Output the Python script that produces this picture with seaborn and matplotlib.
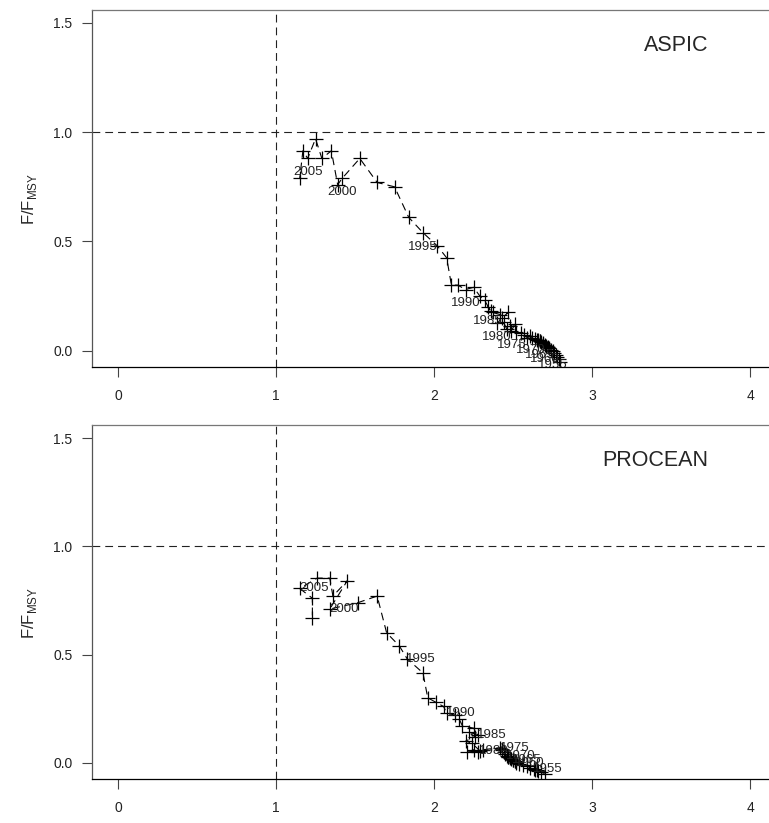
import numpy as np
import pandas as pd
import seaborn as sns
import matplotlib.pyplot as plt

# Data: B/BMSY (x) and F/FMSY (y) by year
years = list(range(1950, 2008))
label_years = [1955, 1960, 1965, 1970, 1975, 1980, 1985, 1990, 1995, 2000, 2005]

aspic_b = [2.80, 2.79, 2.78, 2.77, 2.76, 2.75, 2.74, 2.73, 2.72, 2.71,
           2.70, 2.69, 2.69, 2.68, 2.67, 2.67, 2.66, 2.65, 2.64, 2.62,
           2.61, 2.59, 2.57, 2.55, 2.52, 2.49, 2.51, 2.48, 2.46, 2.44,
           2.40, 2.43, 2.47, 2.42, 2.37, 2.34, 2.36, 2.32, 2.29, 2.25,
           2.20, 2.15, 2.11, 2.08, 2.02, 1.93, 1.84, 1.75, 1.64, 1.53,
           1.42, 1.39, 1.35, 1.29, 1.25, 1.20, 1.17, 1.15]
aspic_f = [-0.05, -0.04, -0.03, -0.02, -0.01, 0.00, 0.005, 0.01, 0.015, 0.02,
           0.025, 0.03, 0.035, 0.04, 0.042, 0.045, 0.05, 0.05, 0.055, 0.06,
           0.065, 0.06, 0.07, 0.08, 0.085, 0.09, 0.12, 0.115, 0.10, 0.13,
           0.125, 0.15, 0.175, 0.165, 0.175, 0.20, 0.18, 0.23, 0.25, 0.29,
           0.28, 0.30, 0.30, 0.425, 0.48, 0.54, 0.61, 0.75, 0.77, 0.88,
           0.79, 0.76, 0.915, 0.88, 0.97, 0.88, 0.915, 0.79]

procean_b = [2.70, 2.68, 2.66, 2.65, 2.64, 2.63, 2.61, 2.59, 2.56, 2.54,
             2.52, 2.52, 2.51, 2.51, 2.50, 2.50, 2.49, 2.48, 2.47, 2.47,
             2.46, 2.45, 2.44, 2.43, 2.43, 2.42, 2.31, 2.28, 2.25, 2.21,
             2.29, 2.24, 2.20, 2.26, 2.22, 2.28, 2.25, 2.18, 2.16, 2.13,
             2.08, 2.06, 2.01, 1.96, 1.93, 1.83, 1.78, 1.70, 1.64, 1.52,
             1.34, 1.45, 1.36, 1.34, 1.26, 1.15, 1.23, 1.23]
procean_f = [-0.05, -0.045, -0.04, -0.035, -0.035, -0.03, -0.025, -0.015, -0.01, -0.005,
             0.00, 0.005, 0.008, 0.01, 0.012, 0.014, 0.018, 0.022, 0.025, 0.028,
             0.03, 0.04, 0.05, 0.06, 0.065, 0.07, 0.06, 0.05, 0.06, 0.05,
             0.055, 0.09, 0.10, 0.12, 0.14, 0.13, 0.16, 0.17, 0.20, 0.22,
             0.23, 0.26, 0.28, 0.30, 0.415, 0.48, 0.54, 0.60, 0.77, 0.74,
             0.71, 0.84, 0.77, 0.853, 0.853, 0.805, 0.76, 0.668]

panel_names = ["ASPIC", "PROCEAN"]
x_ticks = [0, 1, 2, 3, 4]
y_ticks = [0.0, 0.5, 1.0, 1.5]

sns.set_style("white")
plt.rcParams['font.family'] = ['Liberation Sans', 'DejaVu Sans']
plt.rcParams['mathtext.fontset'] = 'custom'
plt.rcParams['mathtext.rm'] = 'Liberation Sans'

fig = plt.figure(figsize=(7.69, 8.23), dpi=100)
ax_top = fig.add_axes([0.1196, 0.554, 0.8804, 0.434])
ax_bot = fig.add_axes([0.1196, 0.0535, 0.8804, 0.430])

dash = (0, (7, 4.5))

panels = [
    (ax_top, aspic_b, aspic_f, (0, -10)),
    (ax_bot, procean_b, procean_f, (10, 0)),
]

for (ax, b, f, offset), name in zip(panels, panel_names):
    df = pd.DataFrame({'year': years, 'b': b, 'f': f})
    sns.lineplot(data=df, x='b', y='f', sort=False, estimator=None, ax=ax,
                 color='black', lw=0.8, linestyle=dash,
                 marker='+', markersize=10, markeredgewidth=0.9,
                 markeredgecolor='black')
    ax.axhline(1.0, color='#222222', lw=0.8, linestyle=dash)
    ax.axvline(1.0, color='#222222', lw=0.8, linestyle=dash)

    # year labels every five years
    for _, row in df[df['year'].isin(label_years)].iterrows():
        ax.annotate(str(int(row['year'])), (row['b'], row['f']),
                    xytext=offset, textcoords='offset points',
                    ha='center', va='center', fontsize=9.5,
                    color='#222222', annotation_clip=False, clip_on=True)

    ax.text(0.91, 0.90, name, transform=ax.transAxes, ha='right',
            va='center', fontsize=15.5)

    ax.set_xlim(-0.165, 4.12)
    ax.set_ylim(-0.075, 1.56)
    ax.set_xticks(x_ticks)
    ax.set_xticklabels([str(t) for t in x_ticks])
    ax.set_yticks(y_ticks)
    ax.set_yticklabels([f"{t:.1f}" for t in y_ticks])
    ax.tick_params(axis='both', direction='out', length=7, width=0.8,
                   color='#444444', labelsize=10, labelcolor='#222222',
                   bottom=True, left=True)
    ax.tick_params(axis='x', pad=9)
    ax.tick_params(axis='y', pad=7)
    ax.set_xlabel('')
    ax.set_ylabel(r'F/F$_{\mathrm{MSY}}$', fontsize=12)
    ax.yaxis.set_label_coords(-0.078, 0.47)

    for side in ['left', 'bottom', 'top']:
        ax.spines[side].set_visible(True)
        ax.spines[side].set_linewidth(0.9)
    ax.spines['left'].set_color('#555555')
    ax.spines['top'].set_color('#777777')
    ax.spines['bottom'].set_color('black')
    ax.spines['right'].set_visible(False)

fig.savefig('out.png', dpi=100)
